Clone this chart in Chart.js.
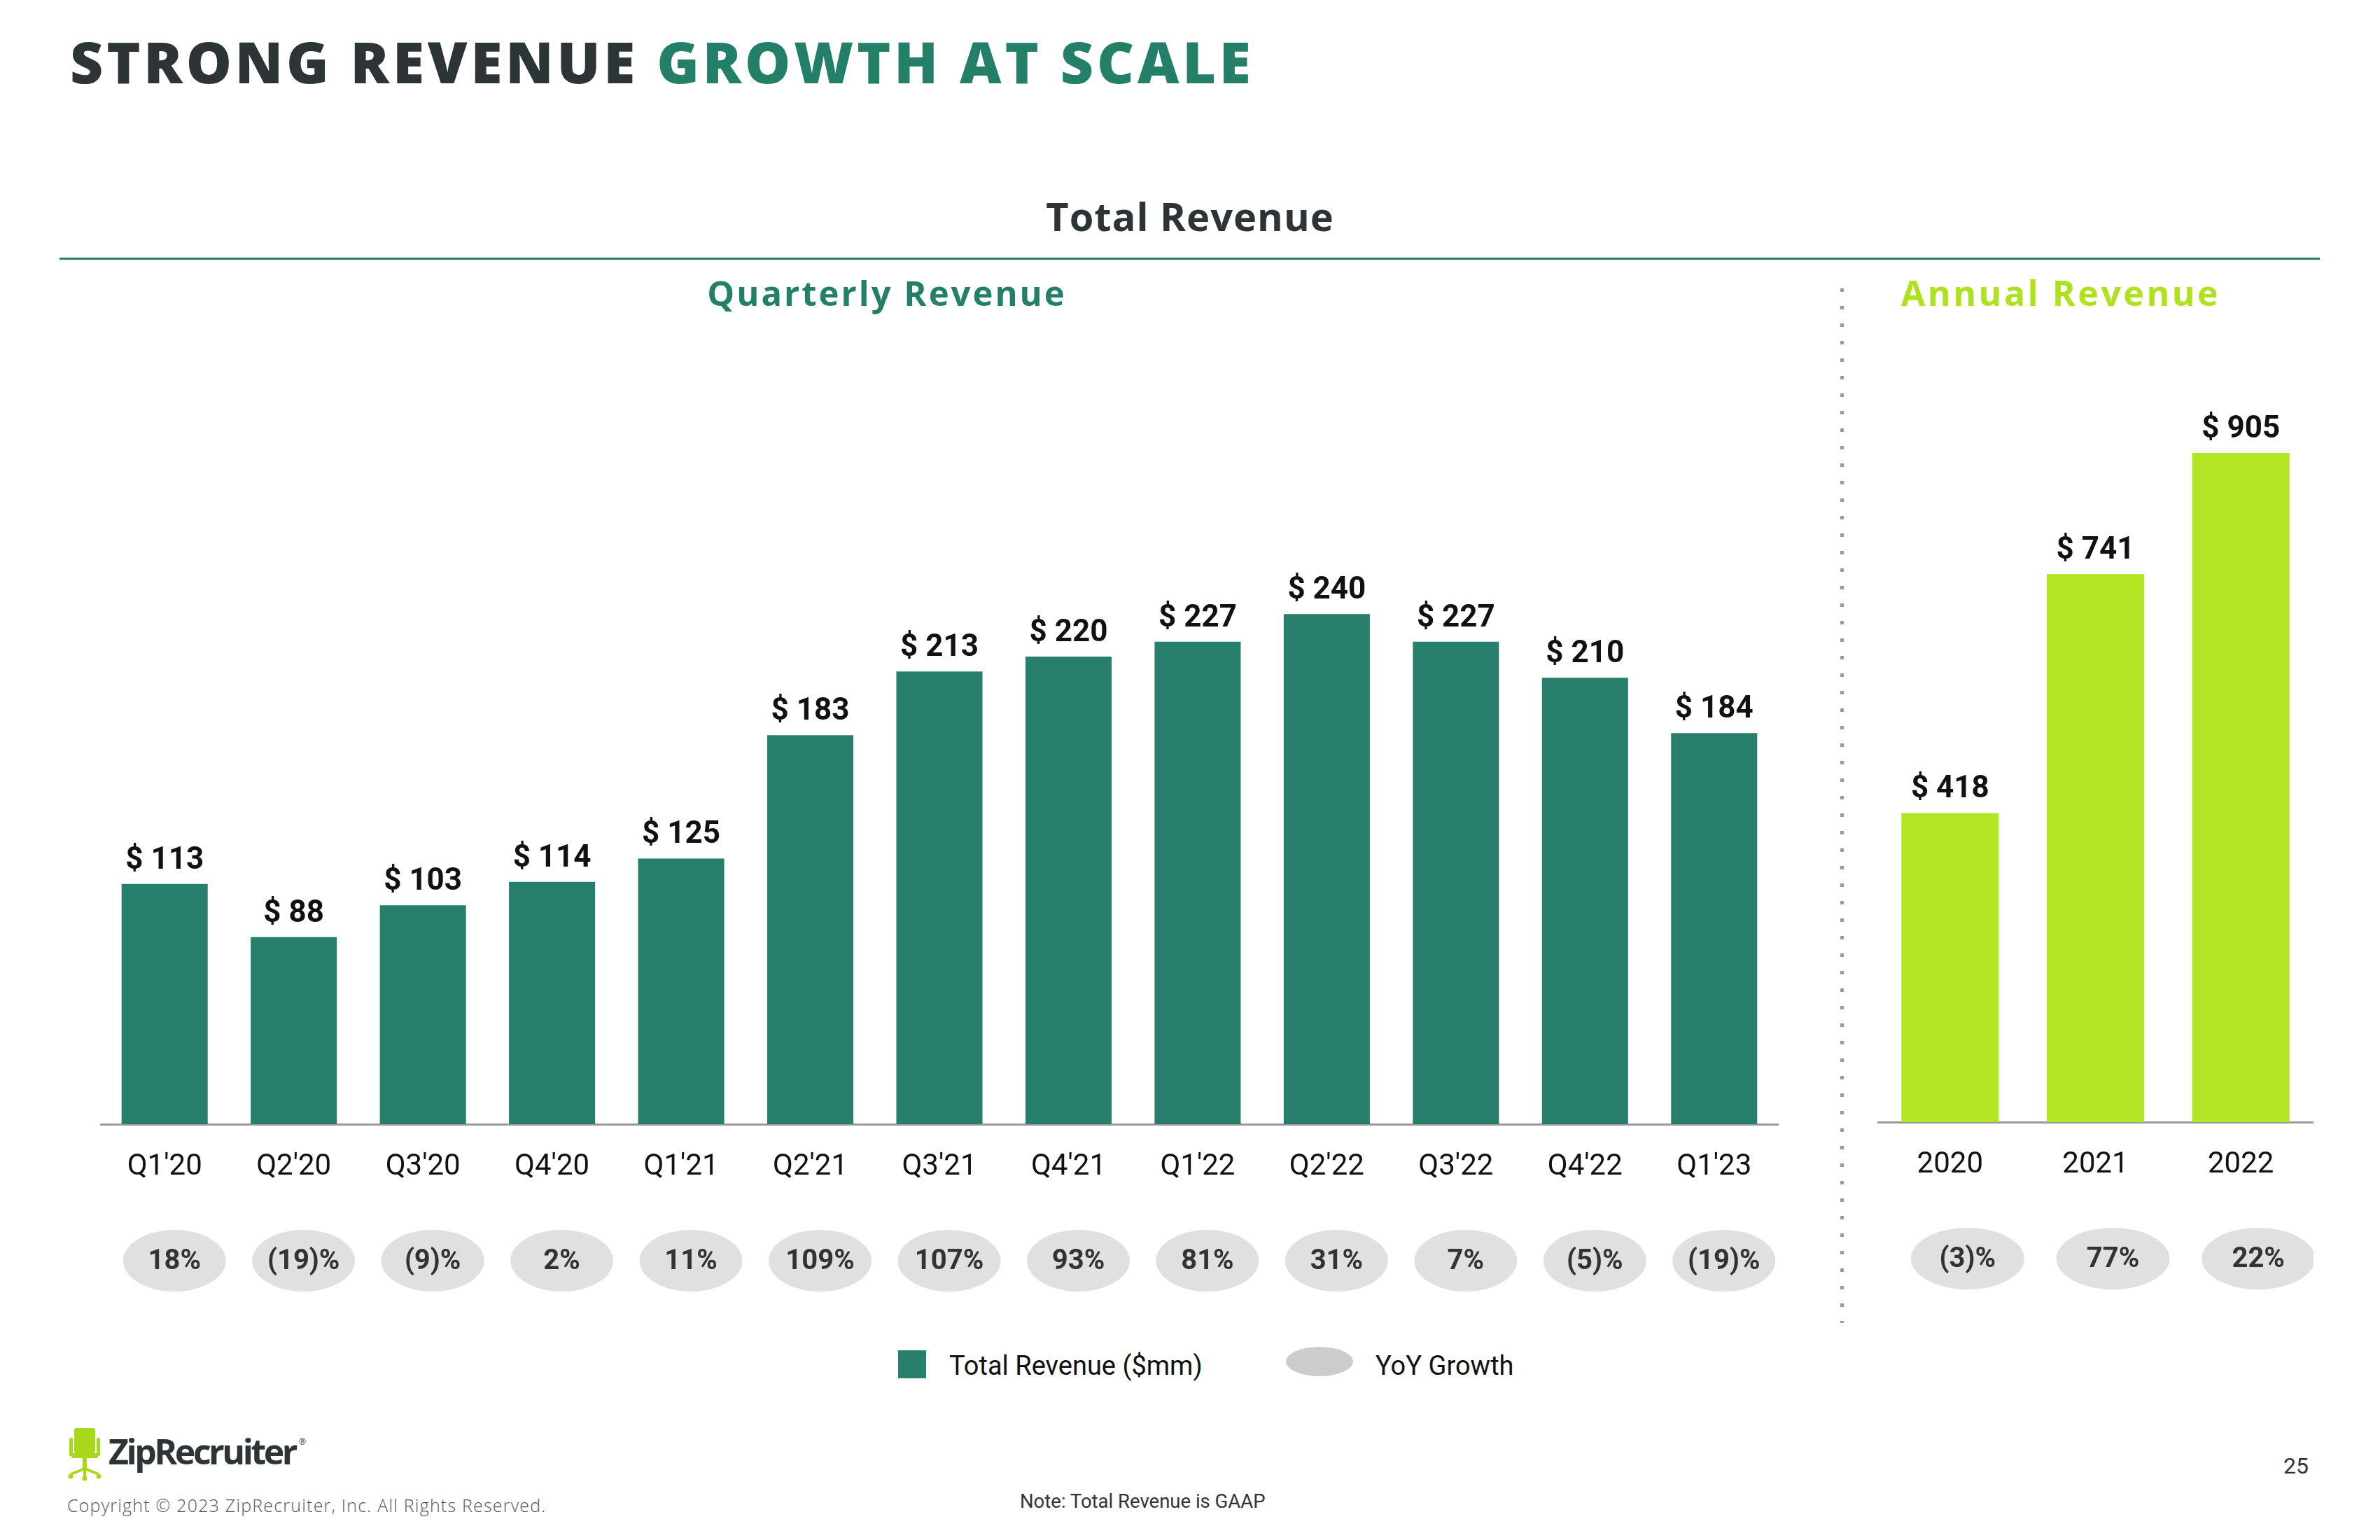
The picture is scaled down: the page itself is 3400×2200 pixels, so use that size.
<!DOCTYPE html>
<html lang="en">
<head>
  <meta charset="UTF-8" />
  <title>Strong Revenue Growth at Scale</title>
  <script src="https://cdn.jsdelivr.net/npm/chart.js"></script>
  <style>
    body { margin: 0; width: 3400px; height: 2200px; background: #fff; position: relative; overflow: hidden; font-family: Roboto, sans-serif; }
    .abs { position: absolute; line-height: 1; white-space: nowrap; }
    .head { font-family: "Open Sans", sans-serif; font-weight: 800; }
    canvas { position: absolute; }
  </style>
</head>
<body>

  <div class="abs head" style="left:100px; top:46px; font-size:82px; color:#2d3436; letter-spacing:4.8px;">STRONG REVENUE <span style="color:#237f68">GROWTH AT SCALE</span></div>

  <div class="abs head" style="left:0; width:3400px; text-align:center; top:280px; font-size:56px; font-weight:700; color:#2d3436; letter-spacing:1px;">Total Revenue</div>
  <div class="abs" style="left:85px; top:368px; width:3229px; height:3px; background:#2a7a66;"></div>

  <div class="abs head" style="left:767px; width:1000px; text-align:center; top:394px; font-size:49px; font-weight:700; color:#237f68; letter-spacing:3px;">Quarterly Revenue</div>
  <div class="abs head" style="left:2444px; width:1000px; text-align:center; top:393px; font-size:50px; font-weight:700; color:#aee21f; letter-spacing:3.5px;">Annual Revenue</div>

  <!-- dotted divider -->
  <div class="abs" style="left:2629px; top:412px; width:5px; height:1478px; background:repeating-linear-gradient(to bottom, #9a9a9a 0 5px, transparent 5px 25px);"></div>

  <canvas id="quarterly" width="2398" height="1165" style="left:143px; top:695px;"></canvas>
  <canvas id="annual" width="623" height="1419" style="left:2682px; top:441px;"></canvas>

  <!-- legend -->
  <div class="abs" style="left:1283px; top:1929px; width:40px; height:40px; background:#277e6a;"></div>
  <div class="abs" style="left:1356px; top:1932px; font-size:38px; color:#111;">Total Revenue ($mm)</div>
  <div class="abs" style="left:1837px; top:1924px; width:96px; height:42px; border-radius:50%; background:#cccccc;"></div>
  <div class="abs" style="left:1965px; top:1932px; font-size:38px; color:#111;">YoY Growth</div>

  <!-- footer -->
  <svg class="abs" style="left:97px; top:2040px;" width="50" height="76" viewBox="0 0 50 76">
    <rect x="9" y="0" width="30" height="36" rx="3" fill="#a8d81c"/>
    <rect x="2" y="14" width="5" height="26" rx="2" fill="#a8d81c"/>
    <rect x="41" y="14" width="5" height="26" rx="2" fill="#a8d81c"/>
    <rect x="5" y="36" width="38" height="7" rx="2" fill="#a8d81c"/>
    <rect x="21" y="43" width="6" height="17" fill="#a8d81c"/>
    <path d="M24 58 L4 66 M24 58 L44 66 M24 58 L24 70" stroke="#a8d81c" stroke-width="4" fill="none"/>
    <circle cx="4" cy="69" r="3.5" fill="#a8d81c"/>
    <circle cx="44" cy="69" r="3.5" fill="#a8d81c"/>
    <circle cx="24" cy="72" r="3.5" fill="#a8d81c"/>
  </svg>
  <div class="abs" style="left:155px; top:2048px; font-family:'Open Sans',sans-serif; font-weight:700; font-size:50px; letter-spacing:-3.5px; color:#2d3436;">ZipRecruiter<sup style="font-size:12px; font-weight:400; vertical-align:top; position:relative; top:6px; left:5px;">®</sup></div>
  <div class="abs" style="left:96px; top:2138px; font-family:'Open Sans',sans-serif; font-weight:300; font-size:25px; letter-spacing:1.2px; color:#555;">Copyright © 2023 ZipRecruiter, Inc. All Rights Reserved.</div>
  <div class="abs" style="left:1457px; top:2131px; font-size:27.5px; color:#333;">Note: Total Revenue is GAAP</div>
  <div class="abs" style="left:3262px; top:2078px; font-size:32px; color:#333;">25</div>

  <script>
    const quarters = ["Q1'20", "Q2'20", "Q3'20", "Q4'20", "Q1'21", "Q2'21", "Q3'21", "Q4'21", "Q1'22", "Q2'22", "Q3'22", "Q4'22", "Q1'23"];
    const quarterlyRevenue = [113, 88, 103, 114, 125, 183, 213, 220, 227, 240, 227, 210, 184];
    const quarterlyGrowth = [18, -19, -9, 2, 11, 109, 107, 93, 81, 31, 7, -5, -19];

    const years = ["2020", "2021", "2022"];
    const annualRevenue = [418, 741, 905];
    const annualGrowth = [-3, 77, 22];

    const fmtPct = n => n < 0 ? "(" + (-n) + ")%" : n + "%";

    // value labels above bars + grey growth pills under the axis
    function labelsPlugin(growth, shift, rx) {
      return {
        id: 'labels',
        afterDatasetsDraw(chart) {
          const ctx = chart.ctx;
          const meta = chart.getDatasetMeta(0);
          const vals = chart.data.datasets[0].data;
          ctx.save();
          ctx.textAlign = 'center';
          ctx.font = 'bold 44px Roboto';
          ctx.fillStyle = '#111';
          ctx.textBaseline = 'alphabetic';
          meta.data.forEach((bar, i) => {
            ctx.fillText('$ ' + vals[i], bar.x, bar.y - 22);
          });
          const cy = chart.chartArea.bottom + 195;
          growth.forEach((g, i) => {
            const cx = chart.scales.x.getPixelForValue(i) + shift;
            ctx.beginPath();
            ctx.ellipse(cx, cy, rx, 44, 0, 0, Math.PI * 2);
            ctx.fillStyle = '#e0e0e0';
            ctx.fill();
            ctx.fillStyle = '#333';
            ctx.font = 'bold 40px Roboto';
            ctx.textBaseline = 'middle';
            ctx.fillText(fmtPct(g), cx, cy + 2);
          });
          ctx.restore();
        }
      };
    }

    function makeChart(id, labels, values, color, yMax, axisH, barPct, plugin) {
      return new Chart(document.getElementById(id), {
        type: 'bar',
        data: {
          labels: labels,
          datasets: [{ data: values, backgroundColor: color, categoryPercentage: 1, barPercentage: barPct }]
        },
        options: {
          responsive: false,
          animation: false,
          layout: { padding: 0 },
          plugins: { legend: { display: false }, tooltip: { enabled: false } },
          scales: {
            x: {
              grid: { display: false },
              border: { display: true, color: '#9a9a9a', width: 3 },
              ticks: { font: { family: 'Roboto', size: 42 }, color: '#111', padding: 28, maxRotation: 0 },
              afterFit: s => { s.height = axisH; }
            },
            y: { display: false, min: 0, max: yMax }
          }
        },
        plugins: [plugin]
      });
    }

    makeChart('quarterly', quarters, quarterlyRevenue, '#277e6a', 300, 254, 0.667, labelsPlugin(quarterlyGrowth, 14, 73.5));
    makeChart('annual', years, annualRevenue, '#b2e524', 1100, 257, 0.67, labelsPlugin(annualGrowth, 25, 81));
  </script>

</body>
</html>
